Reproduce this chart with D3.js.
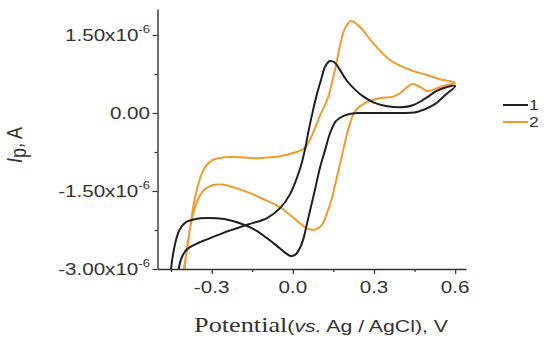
<!DOCTYPE html>
<html>
<head>
<meta charset="utf-8">
<script src="https://cdn.jsdelivr.net/npm/d3@7"></script>
<style>
  html, body { margin: 0; padding: 0; background: #fff; }
  svg { display: block; }
</style>
</head>
<body>
<svg id="chart" width="550" height="345"></svg>
<script>
// ---------- DATA (potential in V, current in units of 1e-6 A) ----------
const seriesNames = ["1", "2"];
const seriesColors = ["#1f1f1f", "#f39a2c"];

// Series 1 (black): forward sweep then reverse sweep
const series1V = [-0.430, -0.422, -0.412, -0.398, -0.380, -0.350, -0.317, -0.254, -0.169, -0.095, -0.047, -0.010, 0.015, 0.032, 0.045, 0.060, 0.075, 0.090, 0.105, 0.120, 0.138, 0.155, 0.175, 0.200, 0.230, 0.260, 0.300, 0.350, 0.400, 0.444, 0.490, 0.530, 0.570, 0.600,
                  0.560, 0.519, 0.459, 0.360, 0.300, 0.250, 0.220, 0.190, 0.160, 0.138, 0.120, 0.101, 0.083, 0.064, 0.050, 0.038, 0.024, 0.008, -0.008, -0.030, -0.060, -0.095, -0.132, -0.195, -0.254, -0.317, -0.360, -0.395, -0.418, -0.432, -0.442, -0.450, -0.455];
const series1I = [-3.30, -3.00, -2.80, -2.66, -2.58, -2.50, -2.43, -2.30, -2.15, -2.02, -1.83, -1.56, -1.25, -0.98, -0.70, -0.30, 0.06, 0.38, 0.65, 0.90, 1.00, 0.97, 0.82, 0.62, 0.45, 0.32, 0.20, 0.13, 0.11, 0.15, 0.28, 0.42, 0.50, 0.52,
                  0.33, 0.15, 0.02, 0.00, 0.00, 0.00, -0.01, -0.05, -0.15, -0.38, -0.70, -1.04, -1.45, -1.87, -2.18, -2.44, -2.62, -2.73, -2.75, -2.68, -2.55, -2.41, -2.27, -2.12, -2.04, -2.02, -2.04, -2.10, -2.24, -2.45, -2.70, -3.00, -3.30];

// Series 2 (orange): forward sweep then reverse sweep
const series2V = [-0.405, -0.402, -0.390, -0.378, -0.365, -0.350, -0.335, -0.318, -0.298, -0.275, -0.250, -0.195, -0.132, -0.084, -0.047, 0.001, 0.045, 0.075, 0.101, 0.127, 0.156, 0.175, 0.193, 0.215, 0.241, 0.267, 0.296, 0.359, 0.433, 0.496, 0.544, 0.600,
                  0.570, 0.544, 0.515, 0.496, 0.478, 0.463, 0.441, 0.419, 0.396, 0.385, 0.367, 0.323, 0.274, 0.248, 0.226, 0.204, 0.182, 0.163, 0.145, 0.130, 0.108, 0.089, 0.075, 0.049, 0.027, -0.010, -0.047, -0.103, -0.158, -0.213, -0.254, -0.290, -0.315, -0.335, -0.352, -0.366, -0.378, -0.390, -0.400, -0.406];
const series2I = [-3.30, -3.00, -2.60, -2.15, -1.72, -1.38, -1.15, -1.00, -0.91, -0.87, -0.85, -0.85, -0.87, -0.85, -0.83, -0.77, -0.67, -0.38, -0.04, 0.25, 0.83, 1.31, 1.63, 1.77, 1.69, 1.54, 1.35, 1.02, 0.83, 0.73, 0.65, 0.58,
                  0.54, 0.50, 0.44, 0.42, 0.48, 0.52, 0.56, 0.48, 0.38, 0.35, 0.31, 0.29, 0.21, 0.13, 0.00, -0.33, -0.81, -1.23, -1.63, -1.87, -2.15, -2.23, -2.25, -2.21, -2.12, -1.96, -1.81, -1.67, -1.54, -1.44, -1.38, -1.38, -1.43, -1.52, -1.68, -1.90, -2.18, -2.55, -3.00, -3.30];

// Ticks
const xTickValues = [-0.3, 0.0, 0.3, 0.6];
const xTickLabels = ["-0.3", "0.0", "0.3", "0.6"];
const xMinorTicks = [-0.45, -0.15, 0.15, 0.45];
const yTickValues = [-3.0, -1.5, 0.0, 1.5];
const yTickMantissa = ["-3.00x10", "-1.50x10", "0.00", "1.50x10"];
const yTickExponent = ["-6", "-6", "", "-6"];
const yMinorTicks = [-2.25, -0.75, 0.75];

// ---------- CHART ----------
const svg = d3.select("#chart");
const SX = 1.25; // horizontal text stretch seen in the reference

const x = d3.scaleLinear().domain([-0.5, 0.64]).range([157.5, 466]);
const y = d3.scaleLinear().domain([-3.0, 2.0]).range([269, 9]);

svg.append("defs").append("clipPath").attr("id", "plotclip")
  .append("rect").attr("x", 157.5).attr("y", 0).attr("width", 320).attr("height", 269);

// Curves
const line = d3.line().x(d => x(d[0])).y(d => y(d[1])).curve(d3.curveCatmullRom.alpha(0.5));
const seriesData = [
  d3.zip(series1V, series1I),
  d3.zip(series2V, series2I)
];
const plot = svg.append("g").attr("clip-path", "url(#plotclip)");
plot.append("path").datum(seriesData[1]).attr("d", line)
  .attr("fill", "none").attr("stroke", seriesColors[1]).attr("stroke-width", 2).attr("stroke-linejoin", "round");
plot.append("path").datum(seriesData[0]).attr("d", line)
  .attr("fill", "none").attr("stroke", seriesColors[0]).attr("stroke-width", 2).attr("stroke-linejoin", "round");

// Axes
const axisColor = "#333";
const yAxis = svg.append("g").attr("transform", "translate(157.5,0)")
  .call(d3.axisLeft(y).tickValues(yTickValues).tickSize(5).tickSizeOuter(0).tickFormat(""));
const yAxisMinor = svg.append("g").attr("transform", "translate(157.5,0)")
  .call(d3.axisLeft(y).tickValues(yMinorTicks).tickSize(3).tickSizeOuter(0).tickFormat(""));
yAxisMinor.select(".domain").remove();

const xAxis = svg.append("g").attr("transform", "translate(0,269)")
  .call(d3.axisBottom(x).tickValues(xTickValues).tickSize(5).tickSizeOuter(0).tickFormat(""));
const xAxisMinor = svg.append("g").attr("transform", "translate(0,269)")
  .call(d3.axisBottom(x).tickValues(xMinorTicks).tickSize(3).tickSizeOuter(0).tickFormat(""));
xAxisMinor.select(".domain").remove();

svg.selectAll(".domain").attr("stroke", axisColor).attr("stroke-width", 1.4);
svg.selectAll(".tick line").attr("stroke", axisColor).attr("stroke-width", 1.2);

// Y tick labels
const font = "Liberation Sans, Arial, sans-serif";
yTickValues.forEach((v, i) => {
  const g = svg.append("g").attr("transform", `translate(150,${y(v) + 6}) scale(${SX},1)`);
  const t = g.append("text").attr("text-anchor", "end")
    .attr("font-family", font).attr("font-size", 16.5).attr("fill", "#333");
  t.append("tspan").text(yTickMantissa[i]);
  if (yTickExponent[i]) {
    t.append("tspan").attr("dy", -8).attr("font-size", 10.5).text(yTickExponent[i]);
  }
});

// X tick labels
xTickValues.forEach((v, i) => {
  svg.append("g").attr("transform", `translate(${x(v)},293) scale(${SX},1)`)
    .append("text").attr("text-anchor", "middle")
    .attr("font-family", font).attr("font-size", 16.5).attr("fill", "#333")
    .text(xTickLabels[i]);
});

// X title
const xt = svg.append("g").attr("transform", `translate(321,332) scale(${SX},1)`)
  .append("text").attr("text-anchor", "middle").attr("fill", "#333")
  .attr("font-family", font).attr("font-size", 17);
xt.append("tspan").attr("font-family", "Liberation Serif, Times New Roman, serif").attr("font-size", 21).text("Potential");
xt.append("tspan").text("(");
xt.append("tspan").attr("font-style", "italic").text("vs.");
xt.append("tspan").text(" Ag / AgCl), V");

// Y title
const yt = svg.append("g").attr("transform", `translate(22,145) scale(${SX},1) rotate(-90)`)
  .append("text").attr("text-anchor", "middle").attr("fill", "#333")
  .attr("font-family", font).attr("font-size", 18);
yt.append("tspan").attr("font-style", "italic").text("I");
yt.append("tspan").attr("dy", 3).text("p");
yt.append("tspan").attr("dy", -3).text(", A");

// Legend
seriesNames.forEach((name, i) => {
  const ly = 105 + i * 17;
  svg.append("line").attr("x1", 503).attr("x2", 528).attr("y1", ly).attr("y2", ly)
    .attr("stroke", seriesColors[i]).attr("stroke-width", 2);
  svg.append("g").attr("transform", `translate(529,${ly + 5}) scale(${SX},1)`)
    .append("text").attr("font-family", font).attr("font-size", 14).attr("fill", "#333")
    .text(name);
});
</script>
</body>
</html>
